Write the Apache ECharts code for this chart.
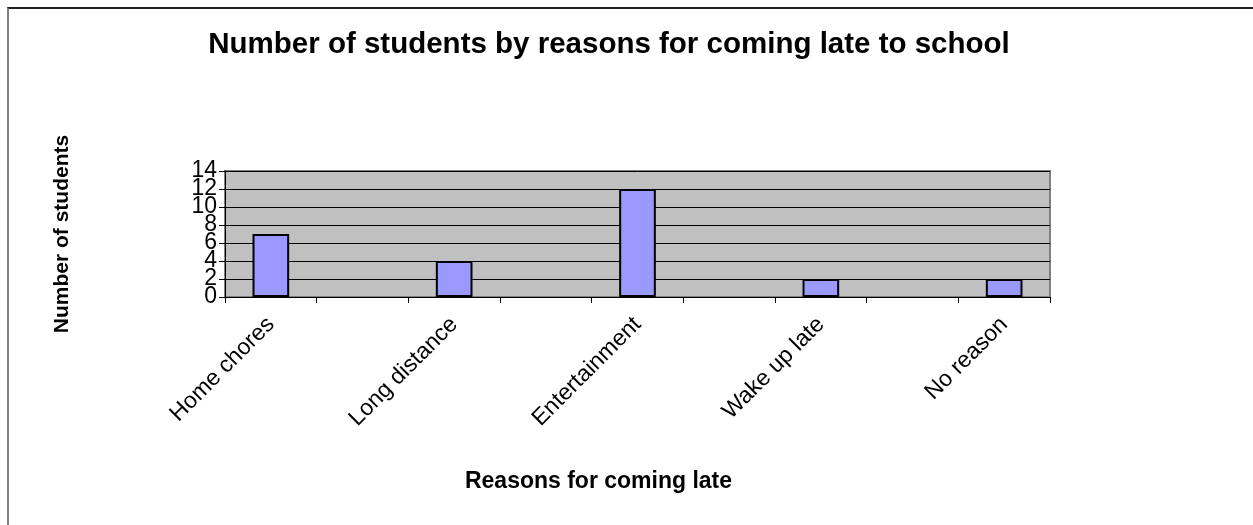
<!DOCTYPE html>
<html>
<head>
<meta charset="utf-8">
<script src="https://cdn.jsdelivr.net/npm/echarts@6/dist/echarts.min.js"></script>
<style>
  html, body { margin: 0; padding: 0; background: #fff; }
  #frame {
    position: absolute; left: 7px; top: 7px; right: -10px; bottom: -10px;
    border-top: 2px solid #222; border-left: 2px solid #808080;
  }
  #chart { position: absolute; left: 0; top: 0; width: 1253px; height: 525px; }
</style>
</head>
<body>
<div id="frame"></div>
<div id="chart"></div>
<script>
// blank slots are the empty rows between the reasons
const categories = ['Home chores', '', 'Long distance', '', 'Entertainment', '', 'Wake up late', '', 'No reason'];
const students = [7, null, 4, null, 12, null, 2, null, 2];
const yTicks = { min: 0, max: 14, interval: 2 };

const font = 'Liberation Sans, Arial, sans-serif';

// the tick labels are packed tightly, so they are split over two stacked
// copies of the same axis to keep ECharts from dropping overlapping ones
function yLabels(keepEven) {
  return {
    fontSize: 23, color: '#000', margin: 8, fontFamily: font,
    showMinLabel: true, showMaxLabel: true, hideOverlap: false,
    formatter: v => ((v / yTicks.interval) % 2 === 0) === keepEven ? String(v) : ''
  };
}

let chart = echarts.init(document.getElementById('chart'));
chart.setOption({
  animation: false,
  textStyle: { fontFamily: font },
  title: {
    text: 'Number of students by reasons for coming late to school',
    left: 604, top: 25, textAlign: 'center',
    textStyle: { fontSize: 29.5, fontWeight: 'bold', color: '#000', fontFamily: font }
  },
  grid: {
    left: 225, right: 203, top: 171, bottom: 228,
    show: true, backgroundColor: '#c0c0c0', borderColor: '#808080', borderWidth: 2
  },
  xAxis: {
    type: 'category',
    data: categories,
    name: 'Reasons for coming late',
    nameLocation: 'middle',
    nameGap: 173,
    nameTextStyle: {
      fontSize: 23, fontWeight: 'bold', color: '#000', fontFamily: font,
      padding: [0, 78, 0, 0]
    },
    axisLine: { lineStyle: { color: '#000', width: 1 } },
    axisTick: { show: true, alignWithLabel: false, length: 6, lineStyle: { color: '#000' } },
    axisLabel: { interval: 0, rotate: 45, fontSize: 23, color: '#000', margin: 24, fontFamily: font },
    splitLine: { show: false }
  },
  yAxis: [{
    type: 'value',
    position: 'left',
    min: yTicks.min, max: yTicks.max, interval: yTicks.interval,
    name: 'Number of students',
    nameLocation: 'middle',
    nameGap: 152,
    nameTextStyle: { fontSize: 21, fontWeight: 'bold', color: '#000', fontFamily: font },
    axisLine: { show: true, lineStyle: { color: '#000', width: 1 } },
    axisTick: { show: true, length: 6, lineStyle: { color: '#000' } },
    axisLabel: yLabels(true),
    splitLine: { show: true, lineStyle: { color: '#000', width: 1 } }
  }, {
    type: 'value',
    position: 'left',
    offset: 0,
    min: yTicks.min, max: yTicks.max, interval: yTicks.interval,
    axisLine: { show: false },
    axisTick: { show: false },
    axisLabel: yLabels(false),
    splitLine: { show: false }
  }],
  series: [{
    type: 'bar',
    yAxisIndex: 0,
    data: students,
    barWidth: '40%',
    itemStyle: { color: '#9999ff', borderColor: '#000', borderWidth: 2 }
  }]
});
</script>
</body>
</html>
